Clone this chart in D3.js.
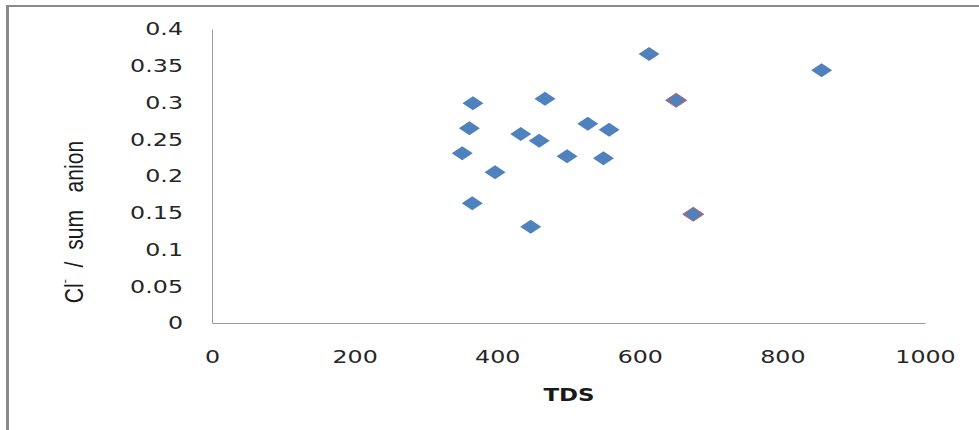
<!DOCTYPE html>
<html>
<head>
<meta charset="utf-8">
<script src="https://cdn.jsdelivr.net/npm/d3@7"></script>
<style>
  html, body { margin: 0; padding: 0; background: #fff; }
  svg { display: block; }
</style>
</head>
<body>
<svg id="chart" width="979" height="430"></svg>
<script>
// ---- data ----
const tds = [613, 855, 366, 467, 651, 361, 527, 557, 433, 459, 351, 498, 549, 397, 365, 675, 447];
const clRatio = [0.366, 0.344, 0.299, 0.305, 0.303, 0.265, 0.271, 0.263, 0.257, 0.248, 0.231, 0.227, 0.224, 0.205, 0.163, 0.148, 0.131];
const outlined = [false, false, false, false, true, false, false, false, false, false, false, false, false, false, false, true, false];
const xTicks = [0, 200, 400, 600, 800, 1000];
const yTicks = [0, 0.05, 0.1, 0.15, 0.2, 0.25, 0.3, 0.35, 0.4];
const xTitle = "TDS";

const svg = d3.select("#chart");
const W = 979, H = 430;

// outer frame (only top & left edges visible in reference)
svg.append("line").attr("x1", 6).attr("x2", W).attr("y1", 6).attr("y2", 6)
  .attr("stroke", "#8a8a8a").attr("stroke-width", 2);
svg.append("line").attr("x1", 7.5).attr("x2", 7.5).attr("y1", 5).attr("y2", H)
  .attr("stroke", "#8a8a8a").attr("stroke-width", 3);

const x = d3.scaleLinear().domain([0, 1000]).range([212, 925]);
const y = d3.scaleLinear().domain([0, 0.4]).range([323, 29]);

const fmt = d => String(+d.toFixed(2));
const SX = 1.32;

// y axis
const gy = svg.append("g").attr("transform", `translate(${x(0)},0)`)
  .call(d3.axisLeft(y).tickValues(yTicks).tickSize(0).tickFormat(fmt));
gy.select(".domain").attr("stroke", "#9a9a9a").attr("stroke-width", 1);
gy.selectAll("text")
  .attr("x", 0).attr("dy", "0.32em")
  .attr("transform", `translate(-29,0) scale(${SX},1)`)
  .attr("font-family", "DejaVu Sans").attr("font-size", 18).attr("fill", "#262626");

// x axis
const gx = svg.append("g").attr("transform", `translate(0,${y(0)})`)
  .call(d3.axisBottom(x).tickValues(xTicks).tickSize(0).tickFormat(fmt));
gx.select(".domain").attr("stroke", "#9a9a9a").attr("stroke-width", 1);
gx.selectAll("text")
  .attr("y", 0).attr("dy", 0)
  .attr("transform", `translate(0,40) scale(${SX},1)`)
  .attr("font-family", "DejaVu Sans").attr("font-size", 18).attr("fill", "#262626");

// x title
svg.append("text")
  .attr("transform", `translate(569,401) scale(1.35,1)`)
  .attr("text-anchor", "middle")
  .attr("font-family", "DejaVu Sans").attr("font-weight", "bold").attr("font-size", 17)
  .attr("fill", "#1a1a1a").text(xTitle);

// y title
const yt = svg.append("text")
  .attr("transform", `translate(83,222) rotate(-90) scale(0.88,1.05)`)
  .attr("text-anchor", "middle")
  .attr("font-family", "Liberation Sans, Arial, sans-serif").attr("font-size", 24)
  .attr("fill", "#1a1a1a").style("white-space", "pre");
yt.append("tspan").text("Cl");
yt.append("tspan").attr("baseline-shift", "super").attr("font-size", 14).text("ˉ");
yt.append("tspan").text("  /  sum   anion");

// markers
const diamond = "M0,-7L10.5,0L0,7L-10.5,0Z";
svg.append("g").selectAll("path")
  .data(tds.map((t, i) => ({ t, r: clRatio[i], o: outlined[i] })))
  .join("path")
  .attr("d", diamond)
  .attr("transform", d => `translate(${x(d.t)},${y(d.r)})`)
  .attr("fill", "#4F81BD")
  .attr("stroke", d => d.o ? "#D0605E" : "none")
  .attr("stroke-width", 1);
</script>
</body>
</html>
